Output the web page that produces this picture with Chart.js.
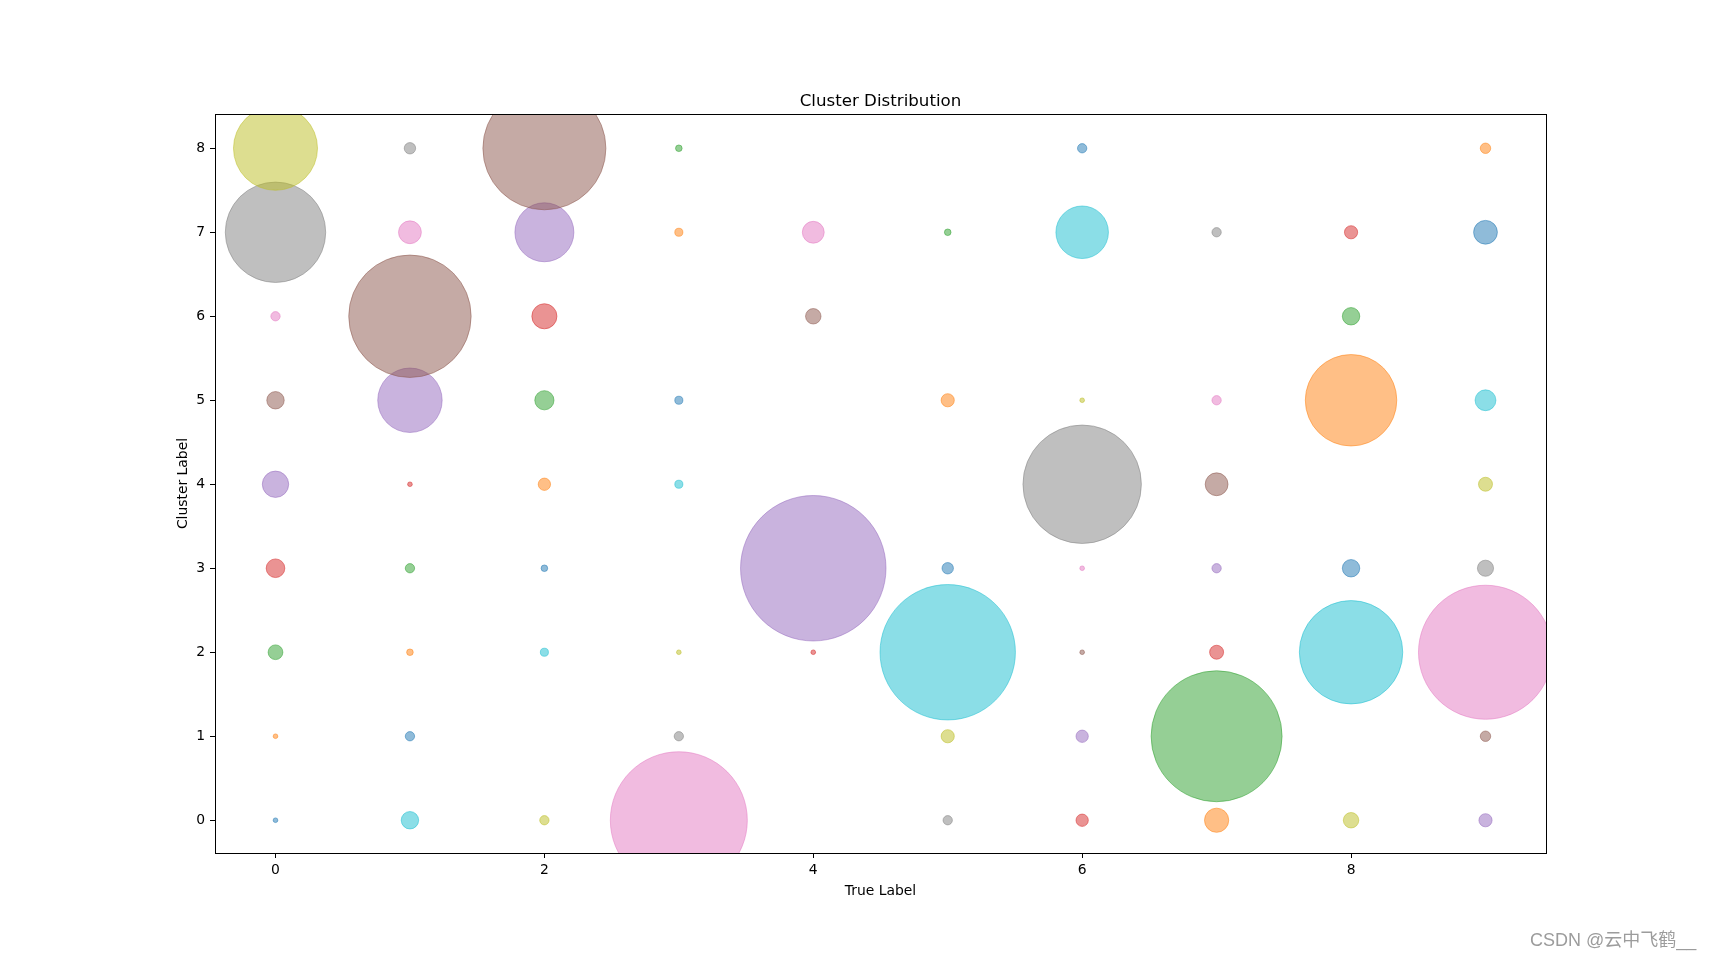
<!DOCTYPE html>
<html>
<head>
<meta charset="utf-8">
<script src="https://cdn.jsdelivr.net/npm/chart.js@4/dist/chart.umd.min.js"></script>
<style>
html, body { margin: 0; padding: 0; background: #fff; }
#wrap { position: relative; width: 1717px; height: 959px; }
#watermark { position: absolute; left: 1530px; top: 930px; font-size: 18px; line-height: 20px;
  font-family: "Liberation Sans", "Noto Sans CJK SC", sans-serif; color: #9c9c9c; white-space: nowrap; }
</style>
</head>
<body>
<div id="wrap">
  <canvas id="c" width="1717" height="959"></canvas>
  <div id="watermark">CSDN @云中飞鹤__</div>
</div>
<script>
// Categories
const trueLabels = [0, 1, 2, 3, 4, 5, 6, 7, 8, 9];
const clusterLabels = [0, 1, 2, 3, 4, 5, 6, 7, 8];
// Counts per true label, indexed by cluster label 0..8 (0 = no point)
const counts0 = [1, 1, 10, 16, 32, 14, 4, 464, 325];
const counts1 = [14, 4, 2, 4, 1, 191, 690, 24, 6];
const counts2 = [4, 0, 3, 2, 7, 17, 29, 160, 697];
const counts3 = [864, 4, 1, 0, 3, 3, 0, 3, 2];
const counts4 = [0, 0, 1, 974, 0, 0, 11, 22, 0];
const counts5 = [4, 8, 844, 6, 0, 8, 0, 2, 0];
const counts6 = [7, 7, 1, 1, 646, 1, 0, 127, 4];
const counts7 = [27, 790, 9, 4, 24, 4, 0, 4, 0];
const counts8 = [11, 0, 492, 14, 0, 385, 14, 8, 0];
const counts9 = [8, 5, 827, 12, 9, 20, 0, 26, 5];
// Tick labels
const xTicks = [0, 2, 4, 6, 8];
const yTicks = [0, 1, 2, 3, 4, 5, 6, 7, 8];

const rows = [counts0, counts1, counts2, counts3, counts4, counts5, counts6, counts7, counts8, counts9];
const tab10 = [[31,119,180],[255,127,14],[44,160,44],[214,39,40],[148,103,189],
               [140,86,75],[227,119,194],[127,127,127],[188,189,34],[23,190,207]];
const SIZE = 2.33; // radius px per sqrt(count)

const points = [], fills = [];
let k = 0;
trueLabels.forEach((t, i) => {
  clusterLabels.forEach((c, j) => {
    const n = rows[i][j];
    if (n > 0) {
      points.push({ x: t, y: c, r: SIZE * Math.sqrt(n) });
      const col = tab10[k % 10];
      fills.push(`rgba(${col[0]},${col[1]},${col[2]},0.5)`);
      k++;
    }
  });
});

const FONT = 'DejaVu Sans';
const frame = {
  id: 'frame',
  afterDatasetsDraw(chart) {
    const { ctx, chartArea: a } = chart;
    ctx.save();
    ctx.strokeStyle = '#000';
    ctx.lineWidth = 1;
    ctx.strokeRect(a.left + 0.5, a.top + 0.5, a.right - a.left, a.bottom - a.top);
    ctx.restore();
  }
};

new Chart(document.getElementById('c'), {
  type: 'bubble',
  data: {
    datasets: [{
      data: points,
      backgroundColor: fills,
      borderColor: fills,
      borderWidth: 1,
      clip: 0
    }]
  },
  options: {
    responsive: false,
    animation: false,
    events: [],
    layout: { padding: { left: 0, top: 0, right: 171, bottom: 0 } },
    plugins: {
      legend: { display: false },
      tooltip: { enabled: false },
      title: {
        display: true,
        text: 'Cluster Distribution',
        color: '#000',
        fullSize: false,
        font: { family: FONT, size: 16.67, weight: 'normal', lineHeight: 1.2 },
        padding: { top: 92, bottom: 2 }
      }
    },
    scales: {
      x: {
        type: 'linear',
        position: 'bottom',
        min: -0.45,
        max: 9.45,
        afterBuildTicks: s => { s.ticks = xTicks.map(v => ({ value: v })); },
        afterFit: s => { s.height = 106; },
        ticks: { color: '#000', font: { family: FONT, size: 13.9 }, padding: 4, maxRotation: 0, autoSkip: false },
        grid: { display: true, drawOnChartArea: false, drawTicks: true, tickLength: 5, color: '#000', lineWidth: 1 },
        border: { display: false },
        title: {
          display: true, text: 'True Label', color: '#000',
          font: { family: FONT, size: 13.9, lineHeight: 1.2 },
          padding: { top: 0, bottom: 59 }
        }
      },
      y: {
        type: 'linear',
        position: 'left',
        min: -0.39,
        max: 8.408,
        afterBuildTicks: s => { s.ticks = yTicks.map(v => ({ value: v })); },
        afterFit: s => { s.width = 215; },
        ticks: { color: '#000', font: { family: FONT, size: 13.9 }, padding: 5, autoSkip: false },
        grid: { display: true, drawOnChartArea: false, drawTicks: true, tickLength: 5, color: '#000', lineWidth: 1 },
        border: { display: false },
        title: {
          display: true, text: 'Cluster Label', color: '#000',
          font: { family: FONT, size: 13.9, lineHeight: 1.2 },
          padding: { top: 175, bottom: 0 }
        }
      }
    }
  },
  plugins: [frame]
});
</script>
</body>
</html>
